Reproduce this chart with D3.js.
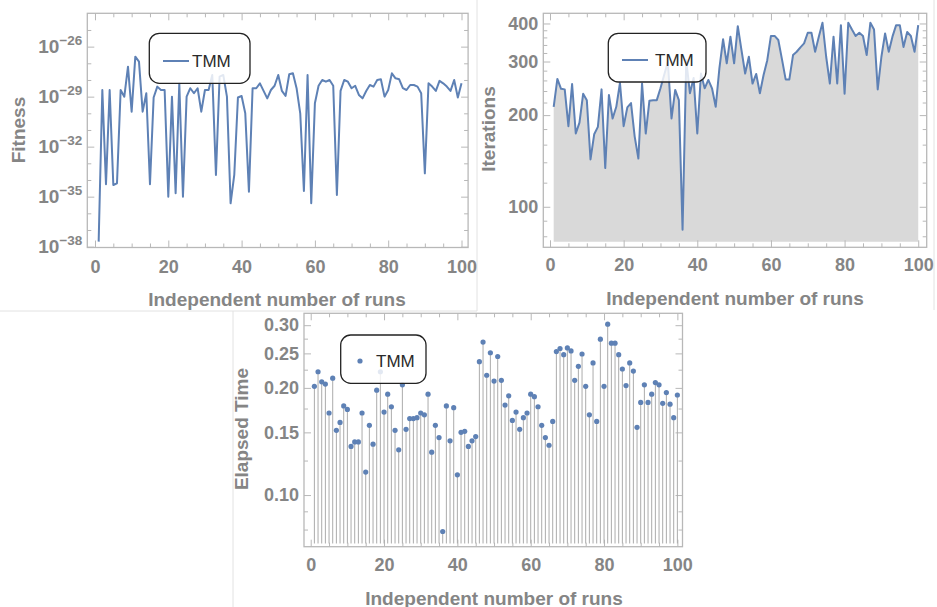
<!DOCTYPE html>
<html><head><meta charset="utf-8">
<script src="https://cdn.jsdelivr.net/npm/d3@7/dist/d3.min.js"></script>
<style>body{margin:0;background:#fff}svg{display:block}</style>
</head><body><svg id="c" width="937" height="607"></svg>
<script>
// ---------------- data ----------------
const runs = d3.range(1, 101);
const seriesName = "TMM";
const xTitle = "Independent number of runs";
const xTicks = [0, 20, 40, 60, 80, 100];
const xMinor = [5,10,15,25,30,35,45,50,55,65,70,75,85,90,95];

const fitness = [
 2.0e-38,2.5e-29,5.5e-35,2.5e-29,5.0e-35,6.3e-35,2.5e-29,1.0e-29,6.3e-28,1.26e-30,
 2.5e-27,1.26e-27,1.26e-30,1.6e-29,5.5e-35,8.9e-30,4.0e-29,2.5e-29,2.5e-29,1.0e-35,
 1.0e-29,1.6e-35,6.3e-29,1.0e-35,1.0e-29,3.2e-29,1.6e-29,3.2e-29,1.26e-30,2.5e-29,
 2.5e-29,2.0e-28,2.0e-34,1.6e-28,2.0e-28,1.0e-29,4.0e-36,2.0e-34,8.9e-30,1.1e-29,
 1.0e-30,2.0e-35,3.2e-29,3.2e-29,6.3e-29,2.2e-29,7.9e-30,2.5e-29,4.5e-29,2.0e-28,
 2.2e-29,1.1e-29,2.2e-28,2.5e-28,3.2e-29,1.0e-30,2.2e-35,2.0e-28,4.0e-36,4.0e-30,
 4.5e-29,1.0e-28,7.9e-29,1.0e-28,4.5e-29,1.26e-35,2.2e-29,1.0e-28,7.9e-29,3.2e-29,
 4.5e-29,1.26e-29,7.9e-30,2.2e-29,5.0e-29,4.0e-29,1.0e-28,1.1e-28,1.0e-29,2.5e-29,
 2.5e-28,1.26e-28,1.1e-28,3.2e-29,2.5e-29,5.0e-29,5.0e-29,4.0e-29,1.6e-29,2.5e-34,
 6.3e-29,4.0e-29,2.2e-29,8.9e-29,6.3e-29,4.0e-29,2.2e-29,1.0e-28,8.9e-30,6.3e-29];
const fitnessTickExp = [-38, -35, -32, -29, -26];
const fitnessMinorExp = [-37,-36,-34,-33,-31,-30,-28,-27,-25];

const iterations = [
 213,263,244,243,184,253,174,189,235,224,
 143,173,183,243,134,233,195,213,255,184,
 212,219,170,144,254,174,223,224,224,245,
 271,299,195,242,224,84,303,236,265,174,
 274,245,261,245,213,285,355,296,362,296,
 392,327,274,311,254,273,236,271,303,364,
 364,353,305,262,262,315,323,334,344,373,
 373,323,362,402,311,254,362,254,395,235,
 402,382,364,373,364,315,402,382,243,311,
 371,323,362,395,395,335,375,364,323,395];
const iterTicks = [100, 200, 300, 400];
const iterMinor = [80,90,120,140,160,180,220,240,260,280,320,340,360,380];

const elapsed = [
 0.202,0.222,0.208,0.205,0.170,0.213,0.152,0.160,0.178,0.174,
 0.137,0.141,0.141,0.170,0.116,0.157,0.139,0.197,0.222,0.171,
 0.192,0.177,0.152,0.134,0.204,0.153,0.164,0.164,0.165,0.170,
 0.168,0.192,0.132,0.157,0.145,0.079,0.178,0.142,0.176,0.114,
 0.150,0.151,0.137,0.142,0.146,0.237,0.269,0.217,0.251,0.209,
 0.245,0.210,0.179,0.190,0.162,0.171,0.153,0.165,0.170,0.192,
 0.189,0.177,0.157,0.145,0.138,0.161,0.253,0.258,0.248,0.259,
 0.254,0.210,0.230,0.249,0.202,0.168,0.235,0.161,0.274,0.202,
 0.302,0.267,0.267,0.248,0.226,0.203,0.235,0.223,0.155,0.182,
 0.204,0.182,0.192,0.207,0.204,0.181,0.194,0.180,0.165,0.191];
const timeTicks = [0.10, 0.15, 0.20, 0.25, 0.30];
const timeMinor = [0.08, 0.09, 0.125, 0.175, 0.225, 0.275];

// ---------------- style ----------------
const FONT = '"Liberation Sans", Arial, sans-serif';
const BLUE = '#5E81B5', TXT = '#858585', FRAME = '#b8b8b8';
const svg = d3.select('#c');

// panel separators
const sep = svg.append('g').attr('stroke', '#e2e2e2').attr('stroke-width', 1);
sep.append('line').attr('x1', 477).attr('y1', 0).attr('x2', 477).attr('y2', 311);
sep.append('line').attr('x1', 0).attr('y1', 311).attr('x2', 477).attr('y2', 311);
sep.append('line').attr('x1', 233).attr('y1', 311).attr('x2', 233).attr('y2', 607);
sep.append('line').attr('x1', 934).attr('y1', 0).attr('x2', 934).attr('y2', 310);

function styleAxis(s) {
  s.select('.domain').remove();
  s.selectAll('.tick line').attr('stroke', FRAME).attr('stroke-width', 1);
  s.selectAll('text').attr('fill', TXT).attr('font-size', 18).attr('font-weight', 'bold').attr('font-family', FONT);
  return s;
}
function ax(g, gen, tr, vals, size, fmt, pad) {
  const a = gen.tickValues(vals).tickSizeInner(-size).tickSizeOuter(0)
    .tickPadding(pad || 0).tickFormat(fmt || (() => ''));
  return styleAxis(g.append('g').attr('transform', tr).call(a));
}
function frame(g, x, y, yMajor, yMinor, yFmt, xPad, yPad) {
  const [L, R] = x.range(), [B, T] = y.range();
  g.append('rect').attr('x', L).attr('y', T).attr('width', R - L).attr('height', B - T)
    .attr('fill', 'none').attr('stroke', FRAME).attr('stroke-width', 1.3);
  ax(g, d3.axisBottom(x), `translate(0,${B})`, xTicks, 7, d3.format('d'), xPad);
  ax(g, d3.axisBottom(x), `translate(0,${B})`, xMinor, 4);
  ax(g, d3.axisTop(x), `translate(0,${T})`, xTicks, 7);
  ax(g, d3.axisTop(x), `translate(0,${T})`, xMinor, 4);
  const yl = ax(g, d3.axisLeft(y), `translate(${L},0)`, yMajor, 7, yFmt, yPad);
  ax(g, d3.axisLeft(y), `translate(${L},0)`, yMinor, 4);
  ax(g, d3.axisRight(y), `translate(${R},0)`, yMajor, 7);
  ax(g, d3.axisRight(y), `translate(${R},0)`, yMinor, 4);
  return yl;
}
function titles(g, xc, xb, yx, yc, ytext) {
  g.append('text').attr('x', xc).attr('y', xb).attr('text-anchor', 'middle')
    .attr('font-family', FONT).attr('font-weight', 'bold').attr('font-size', 19).attr('fill', TXT).text(xTitle);
  g.append('text').attr('transform', `translate(${yx},${yc}) rotate(-90)`).attr('text-anchor', 'middle')
    .attr('font-family', FONT).attr('font-weight', 'bold').attr('font-size', 19).attr('fill', TXT).text(ytext);
}
function legend(g, bx, by, bw, bh, cy, kind, mx, tx) {
  g.append('rect').attr('x', bx).attr('y', by).attr('width', bw).attr('height', bh).attr('rx', 10)
    .attr('fill', '#fff').attr('fill-opacity', 0.82).attr('stroke', '#222').attr('stroke-width', 1.3);
  if (kind === 'line') {
    g.append('line').attr('x1', mx).attr('x2', mx + 26).attr('y1', cy).attr('y2', cy)
      .attr('stroke', BLUE).attr('stroke-width', 2);
  } else {
    g.append('circle').attr('cx', mx).attr('cy', cy).attr('r', 2.6).attr('fill', BLUE);
  }
  g.append('text').attr('x', tx).attr('y', cy + 6).attr('font-family', FONT).attr('font-size', 17)
    .attr('fill', '#2a2a2a').text(seriesName);
}

// ---------------- panel 1: Fitness ----------------
{
  const g = svg.append('g');
  const x = d3.scaleLinear().domain([-2.1, 101.8]).range([87.3, 468.1]);
  const y = d3.scaleLog().domain([Math.pow(10, -38.05), 1e-24]).range([247.5, 13.3]);
  const yl = frame(g, x, y, fitnessTickExp.map(e => Math.pow(10, e)),
    fitnessMinorExp.map(e => Math.pow(10, e)), d => d, 12.5, 5);
  yl.selectAll('.tick text').each(function (d) {
    const t = d3.select(this).text('');
    const e = Math.round(Math.log10(d));
    t.append('tspan').attr('font-size', 19).text('10');
    t.append('tspan').attr('font-size', 13.5).attr('dy', -8).text('\u2212' + Math.abs(e));
  });
  const line = d3.line().x((d, i) => x(runs[i])).y(d => y(d));
  g.append('path').datum(fitness).attr('d', line).attr('fill', 'none')
    .attr('stroke', BLUE).attr('stroke-width', 2).attr('stroke-linejoin', 'round');
  titles(g, 277, 306, 25, 130, 'Fitness');
  legend(g, 149.3, 33.3, 100.7, 50, 61, 'line', 163, 192);
}

// ---------------- panel 2: Iterations ----------------
{
  const g = svg.append('g');
  const x = d3.scaleLinear().domain([-1.82, 102.3]).range([543.3, 926.7]);
  const y = d3.scaleLog().domain([73.6, 432]).range([247.3, 13.3]);
  const base = 76.8;
  const area = d3.area().x((d, i) => x(runs[i])).y0(y(base)).y1(d => y(d));
  g.append('path').datum(iterations).attr('d', area).attr('fill', '#d9d9d9');
  frame(g, x, y, iterTicks, iterMinor, d3.format('d'), 11, 5);
  const line = d3.line().x((d, i) => x(runs[i])).y(d => y(d));
  g.append('path').datum(iterations).attr('d', line).attr('fill', 'none')
    .attr('stroke', BLUE).attr('stroke-width', 2).attr('stroke-linejoin', 'round');
  titles(g, 735, 304.5, 495, 129, 'Iterations');
  legend(g, 608.3, 33.3, 97.7, 48.7, 60, 'line', 622, 655);
}

// ---------------- panel 3: Elapsed Time ----------------
{
  const g = svg.append('g');
  const x = d3.scaleLinear().domain([-1.83, 101.4]).range([304, 682.5]);
  const y = d3.scaleLog().domain([0.0716, 0.324]).range([546.7, 313.3]);
  const base = 0.0731;
  frame(g, x, y, timeTicks, timeMinor, d3.format('.2f'), 11.5, 5);
  g.append('g').selectAll('line').data(elapsed).join('line')
    .attr('x1', (d, i) => x(runs[i])).attr('x2', (d, i) => x(runs[i]))
    .attr('y1', y(base)).attr('y2', d => y(d))
    .attr('stroke', '#ababab').attr('stroke-width', 1);
  g.append('g').selectAll('circle').data(elapsed).join('circle')
    .attr('cx', (d, i) => x(runs[i])).attr('cy', d => y(d)).attr('r', 2.6).attr('fill', BLUE);
  titles(g, 494, 604.5, 248, 429, 'Elapsed Time');
  legend(g, 340.7, 335, 85.3, 48.3, 361, 'dot', 360, 376);
}
</script></body></html>
